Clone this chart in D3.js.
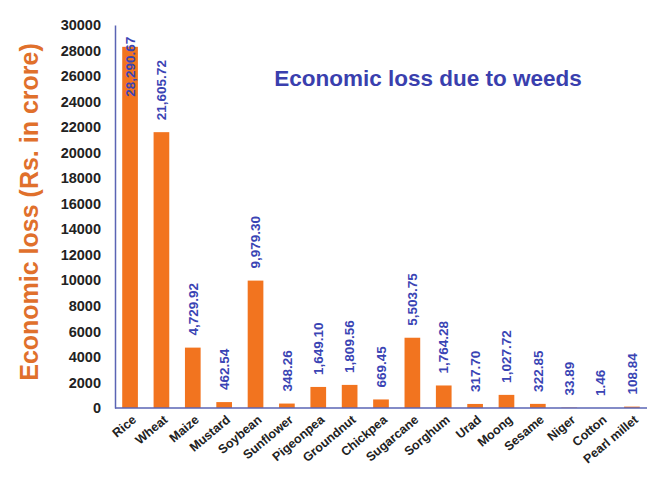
<!DOCTYPE html>
<html>
<head>
<meta charset="utf-8">
<script src="https://cdn.jsdelivr.net/npm/d3@7/dist/d3.min.js"></script>
<style>
  html, body { margin: 0; padding: 0; background: #fff; }
  svg { display: block; }
</style>
</head>
<body>
<svg id="chart" width="647" height="487"></svg>
<script>
// Crops and the economic loss caused by weeds (Rs. in crore)
const crops = ["Rice", "Wheat", "Maize", "Mustard", "Soybean", "Sunflower", "Pigeonpea",
  "Groundnut", "Chickpea", "Sugarcane", "Sorghum", "Urad", "Moong", "Sesame", "Niger",
  "Cotton", "Pearl millet"];
const losses = [28290.67, 21605.72, 4729.92, 462.54, 9979.30, 348.26, 1649.10,
  1809.56, 669.45, 5503.75, 1764.28, 317.70, 1027.72, 322.85, 33.89, 1.46, 108.84];
const yTicks = [0, 2000, 4000, 6000, 8000, 10000, 12000, 14000, 16000, 18000, 20000,
  22000, 24000, 26000, 28000, 30000];
const chartTitle = "Economic loss due to weeds";
const yTitle = "Economic loss (Rs. in crore)";

const svg = d3.select("#chart");
const plotLeft = 115, plotRight = 647, plotTop = 25, plotBottom = 408;

const x = d3.scaleBand().domain(crops).range([plotLeft, plotRight])
  .paddingInner(0.5).paddingOuter(0.23);
const y = d3.scaleLinear().domain([0, 30000]).range([plotBottom, plotTop]);

const fmt = d3.format(",.2f");
const axisColor = "#5a64b4";
const font = "Liberation Sans, Arial, sans-serif";

// bars
svg.append("g").selectAll("rect").data(crops).join("rect")
  .attr("x", d => x(d))
  .attr("width", x.bandwidth())
  .attr("y", (d, i) => y(losses[i]))
  .attr("height", (d, i) => plotBottom - y(losses[i]))
  .attr("fill", "#f2741f");

// y axis
const yAxis = svg.append("g").attr("transform", `translate(${plotLeft},0)`)
  .call(d3.axisLeft(y).tickValues(yTicks).tickFormat(d3.format("d")).tickSize(0).tickPadding(14));
yAxis.select(".domain").attr("stroke", axisColor).attr("stroke-width", 1.5);
yAxis.selectAll("text")
  .attr("font-family", font)
  .attr("font-size", 14.5).attr("font-weight", "bold").attr("fill", "#222");

// x axis
const xAxis = svg.append("g").attr("transform", `translate(0,${plotBottom})`)
  .call(d3.axisBottom(x).tickSize(0).tickPadding(0));
xAxis.select(".domain").attr("stroke", axisColor).attr("stroke-width", 1.5)
  .attr("d", `M${plotLeft},0H647`);
xAxis.selectAll("text")
  .attr("font-family", font)
  .attr("font-size", 12.5).attr("font-weight", "bold").attr("fill", "#222")
  .attr("text-anchor", "end")
  .attr("dy", 0)
  .attr("transform", "translate(7,13) rotate(-40)");

// value labels, rotated, above each bar (kept inside the plot at the top)
svg.append("g").selectAll("text").data(crops).join("text")
  .attr("font-family", font)
  .attr("font-size", 13.5).attr("font-weight", "bold").attr("fill", "#3a44b4")
  .attr("text-anchor", "start")
  .attr("dy", "0.35em")
  .attr("transform", (d, i) => {
    const label = fmt(losses[i]);
    const len = label.length * 8.2;
    let base = y(losses[i]) - 12;
    if (base - len < plotTop - 2) base = plotTop - 2 + len;
    return `translate(${x(d) + x.bandwidth() / 2},${base}) rotate(-90)`;
  })
  .text((d, i) => fmt(losses[i]));

// chart title
svg.append("text")
  .attr("x", 428).attr("y", 86)
  .attr("text-anchor", "middle")
  .attr("font-family", font)
  .attr("font-size", 22.5).attr("font-weight", "bold").attr("fill", "#3a3fae")
  .text(chartTitle);

// y axis title
svg.append("text")
  .attr("transform", "translate(38,212) rotate(-90)")
  .attr("text-anchor", "middle")
  .attr("font-family", font)
  .attr("font-size", 25).attr("font-weight", "bold").attr("fill", "#e0702c")
  .text(yTitle);
</script>
</body>
</html>
